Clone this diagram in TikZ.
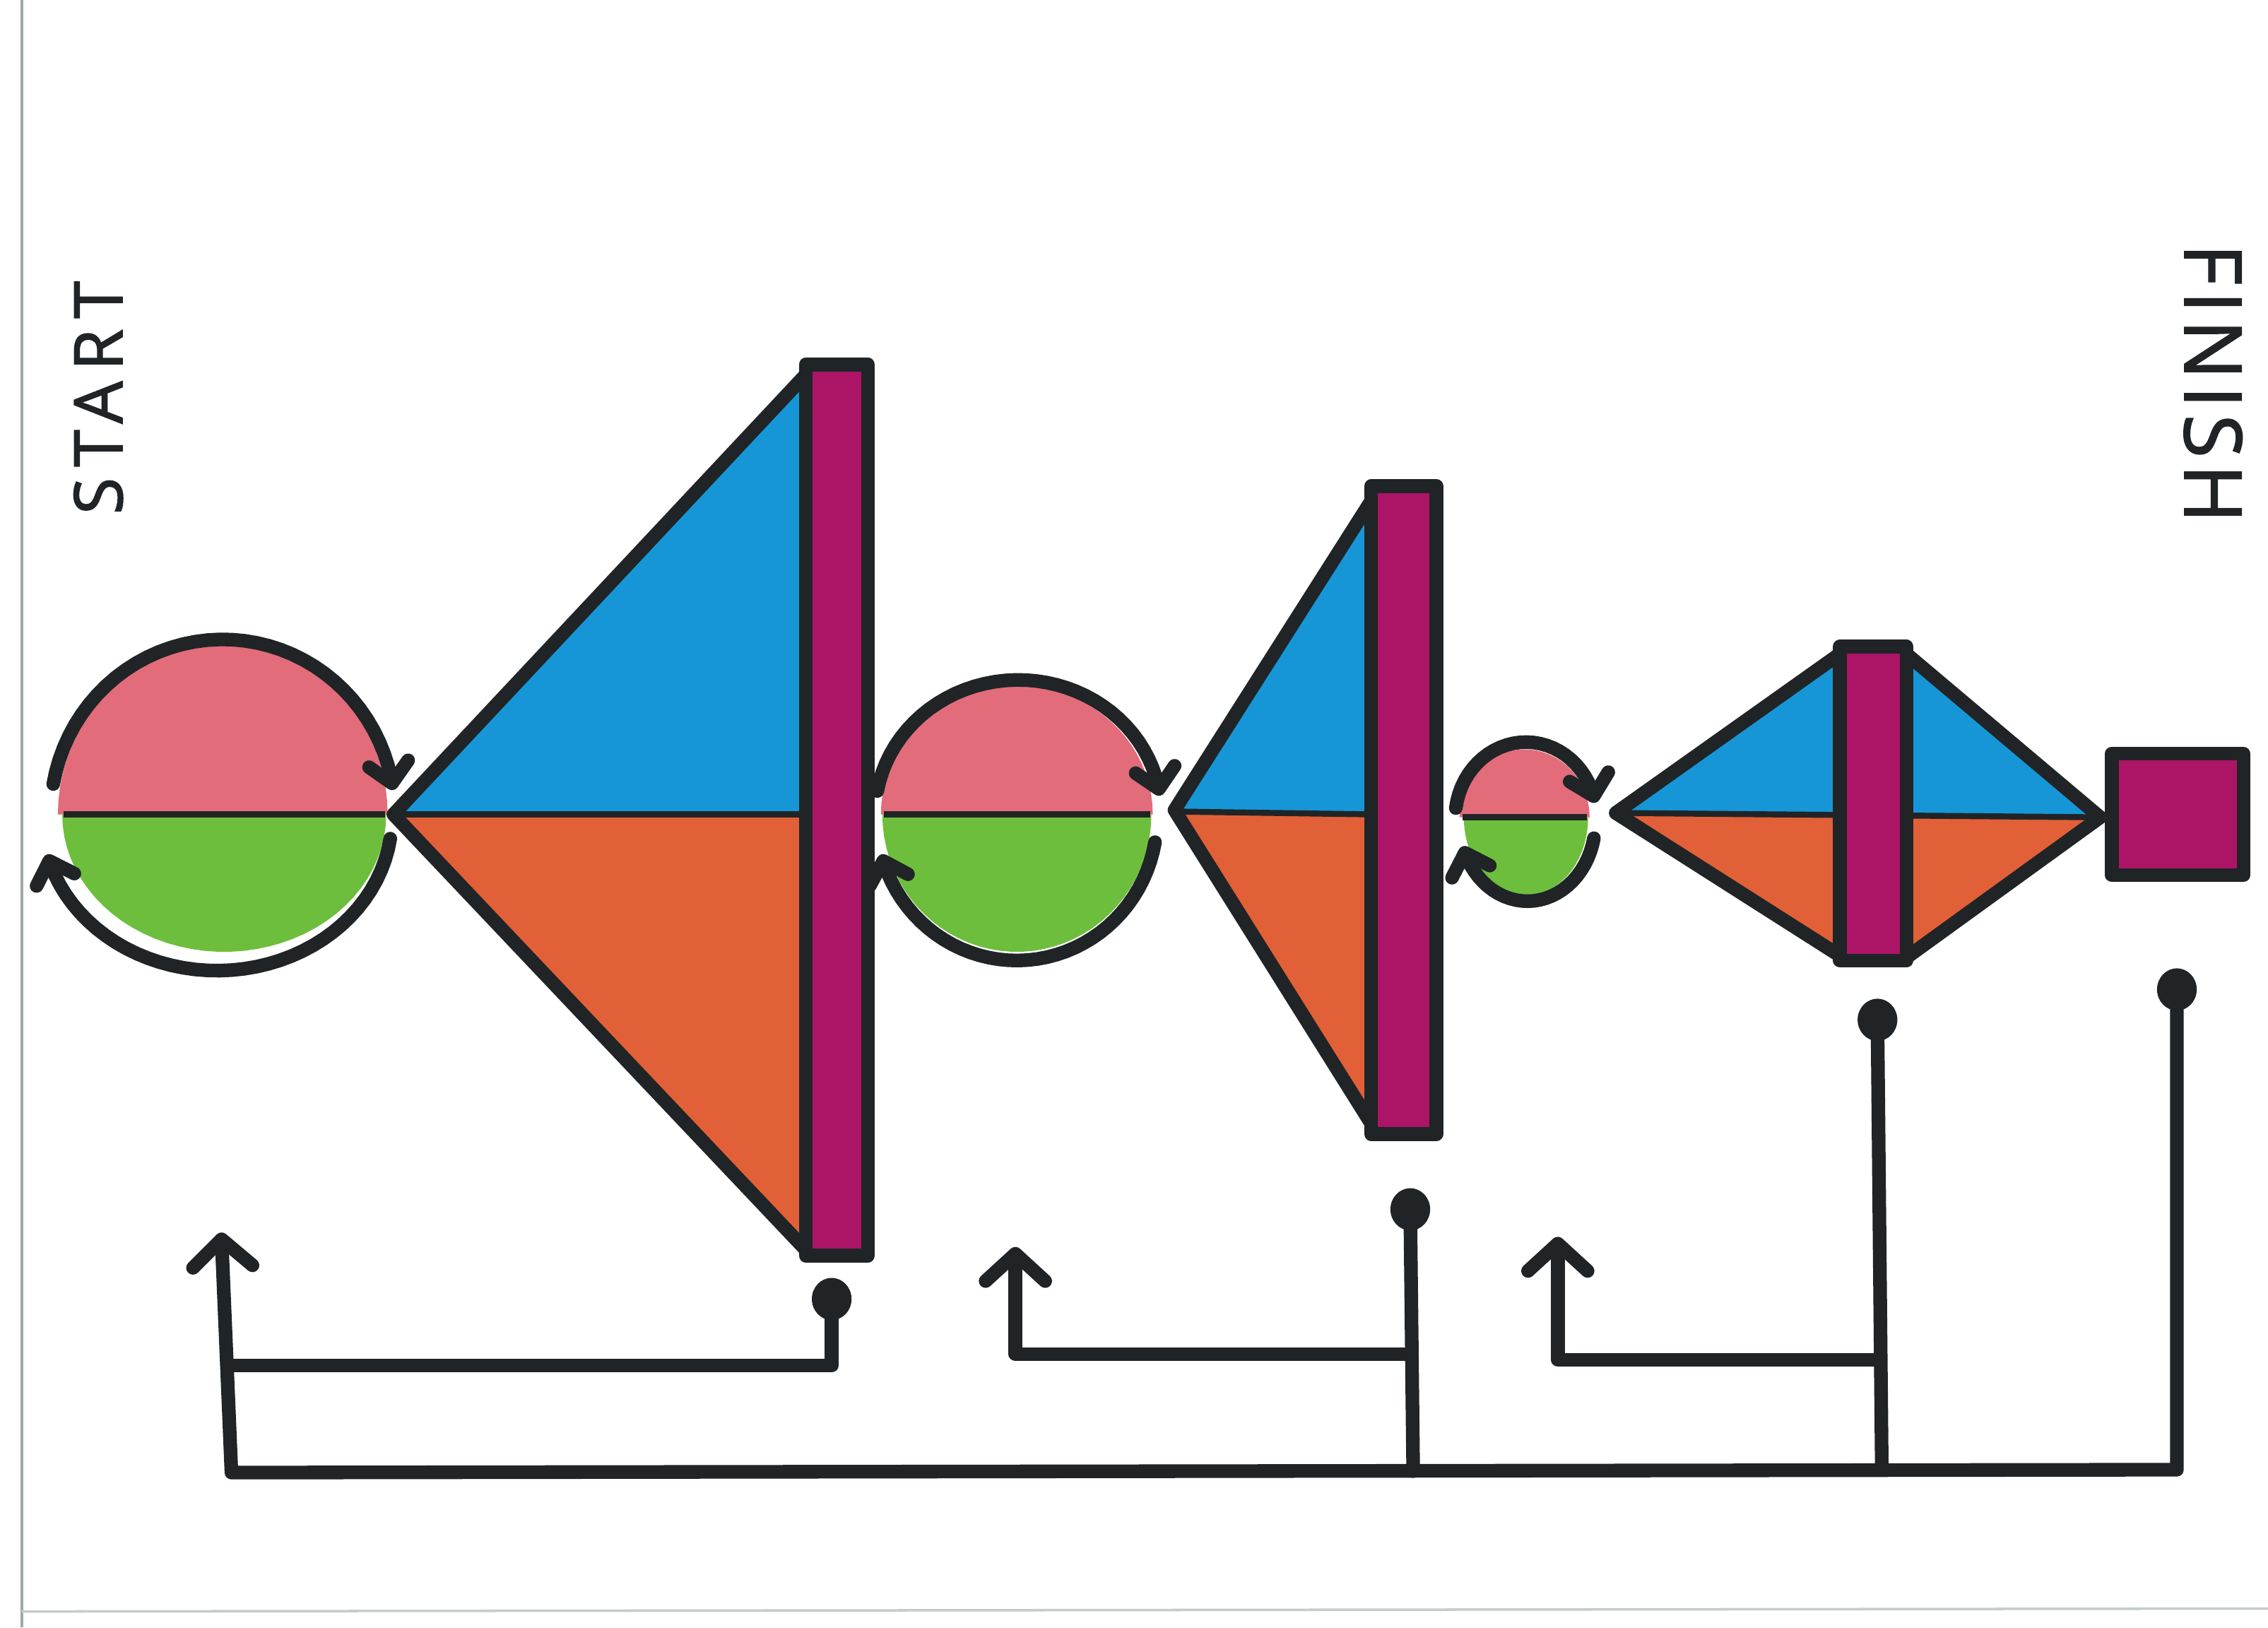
\documentclass[tikz,border=0pt]{standalone}
\usepackage{fontspec}
\newfontfamily\startfont{Open Sans}[LetterSpace=16,FakeBold=1.6]
\newfontfamily\finishfont{Open Sans}[LetterSpace=8,FakeBold=1.6]
\usetikzlibrary{arrows.meta,shapes.geometric}
\definecolor{ink}{RGB}{32,36,38}
\definecolor{rosy}{RGB}{226,108,122}
\definecolor{leaf}{RGB}{110,190,62}
\definecolor{sky}{RGB}{22,150,214}
\definecolor{rust}{RGB}{226,96,56}
\definecolor{plum}{RGB}{172,20,102}
\definecolor{edge}{RGB}{160,168,168}
\tikzset{
  outline/.style={draw=ink, line width=5.5pt, line join=round, line cap=round},
  divider/.style={draw=ink, line width=2.4pt},
  wire/.style={draw=ink, line width=5.5pt, line cap=round, line join=round},
  arcarrow/.style={draw=ink, line width=5.5pt, line cap=round, -{Straight Barb[round,length=8pt,width=16pt]}},
  uparrow/.style={wire, -{Straight Barb[round,length=11pt,width=24pt]}},
  dotnode/.style={ellipse, fill=ink, minimum width=16pt, minimum height=17pt, inner sep=0pt},
  barbox/.style={fill=plum, draw=ink, line width=5.5pt, line join=round},
}
\begin{document}
\begin{tikzpicture}[x=0.02047cm, y=-0.02047cm]
\useasboundingbox (0,0) rectangle (1568,1125);
\fill[white] (0,0) rectangle (1568,1125);
% paper edges
\draw[edge, line width=1.2pt] (15,0) -- (15,1125);
\draw[edge!60, line width=1pt] (15,1114) -- (1568,1112);

% labels
\node[rotate=90, text=ink, font=\startfont\fontsize{27}{30}\selectfont] (start) at (68,275) {START};
\node[rotate=-90, text=ink, font=\finishfont\fontsize{32}{35}\selectfont] (finish) at (1530,265) {FINISH};

% ---------- circle 1 ----------
\fill[rosy] plot[domain=0:180, samples=40] ({154+114*cos(\x)},{563-118*sin(\x)}) -- cycle;
\fill[leaf] plot[domain=180:360, samples=40] ({155+112*cos(\x)},{563-95*sin(\x)}) -- cycle;
\draw[divider] (44,563) -- (266,563);
\draw[arcarrow] plot[domain=170:8, samples=40] ({154+119*cos(\x)},{563-121*sin(\x)});
\draw[arcarrow] plot[domain=-8:-166, samples=40] ({150+121*cos(\x)},{565-106*sin(\x)});

% ---------- triangle 2 ----------
\fill[sky] (272,563) -- (558,258) -- (558,563) -- cycle;
\fill[rust] (272,563) -- (558,865) -- (558,563) -- cycle;
\draw[divider] (272,563) -- (558,563);
\draw[outline] (272,563) -- (558,258) -- (558,865) -- cycle;
\draw[barbox] (557,252) rectangle (600,868);

% ---------- circle 3 ----------
\fill[rosy] plot[domain=0:180, samples=40] ({703+94*cos(\x)},{563-89*sin(\x)}) -- cycle;
\fill[leaf] plot[domain=180:360, samples=40] ({703+93*cos(\x)},{563-95*sin(\x)}) -- cycle;
\draw[divider] (611,563) -- (795,563);
\draw[arcarrow] plot[domain=170:8, samples=40] ({704+99*cos(\x)},{563-93*sin(\x)});
\draw[arcarrow] plot[domain=-10:-165, samples=40] ({703+97*cos(\x)},{565-99*sin(\x)});

% ---------- triangle 4 ----------
\fill[sky] (812,560) -- (950,343) -- (950,563) -- cycle;
\fill[rust] (812,560) -- (950,780) -- (950,563) -- cycle;
\draw[divider] (812,561) -- (950,563);
\draw[outline] (812,560) -- (950,343) -- (950,780) -- cycle;
\draw[barbox] (948,336) rectangle (993,784);

% ---------- circle 5 ----------
\fill[rosy] plot[domain=0:180, samples=30] ({1054+45*cos(\x)},{565-47*sin(\x)}) -- cycle;
\fill[leaf] plot[domain=180:360, samples=30] ({1055+43*cos(\x)},{565-54*sin(\x)}) -- cycle;
\draw[divider] (1011,565) -- (1097,565);
\draw[arcarrow] plot[domain=172:12, samples=30] ({1055+49*cos(\x)},{566-53*sin(\x)});
\draw[arcarrow] plot[domain=-12:-162, samples=30] ({1056+47*cos(\x)},{568-55*sin(\x)});

% ---------- diamond 6 ----------
\fill[sky] (1117,562) -- (1272,452) -- (1272,563) -- cycle;
\fill[sky] (1318,452) -- (1452,565) -- (1318,563) -- cycle;
\fill[rust] (1117,562) -- (1274,660) -- (1274,563) -- cycle;
\fill[rust] (1318,660) -- (1452,565) -- (1318,563) -- cycle;
\draw[divider] (1117,562) -- (1452,565);
\draw[outline] (1117,562) -- (1272,452) -- (1318,452) -- (1452,565) -- (1318,662) -- (1274,662) -- cycle;
\draw[barbox] (1272,447) rectangle (1318,664);

% ---------- square 7 ----------
\draw[barbox] (1460,521) rectangle (1551,605);

% ---------- connectors ----------
\node[dotnode] (d2) at (575,898) {};
\node[dotnode] (d4) at (975,836) {};
\node[dotnode] (d6) at (1298,705) {};
\node[dotnode] (d7) at (1505,684) {};

\coordinate (a1) at (153,852);
\coordinate (c1) at (158,944);
\coordinate (b1) at (160,1018);
\coordinate (b7) at (1505,1016);
\coordinate (b4) at (977,1017);
\coordinate (j4) at (975,936);
\coordinate (a3) at (702,862);
\coordinate (b6) at (1301,1016);
\coordinate (j6) at (1300,940);
\coordinate (a5) at (1077,855);

\draw[uparrow] (d7.center) -- (b7) -- (b1) -- (a1);
\draw[wire] (d2.center) |- (c1);
\draw[wire] (d4.center) -- (b4);
\draw[uparrow] (j4) -| (a3);
\draw[wire] (d6.center) -- (b6);
\draw[uparrow] (j6) -| (a5);
\end{tikzpicture}
\end{document}
